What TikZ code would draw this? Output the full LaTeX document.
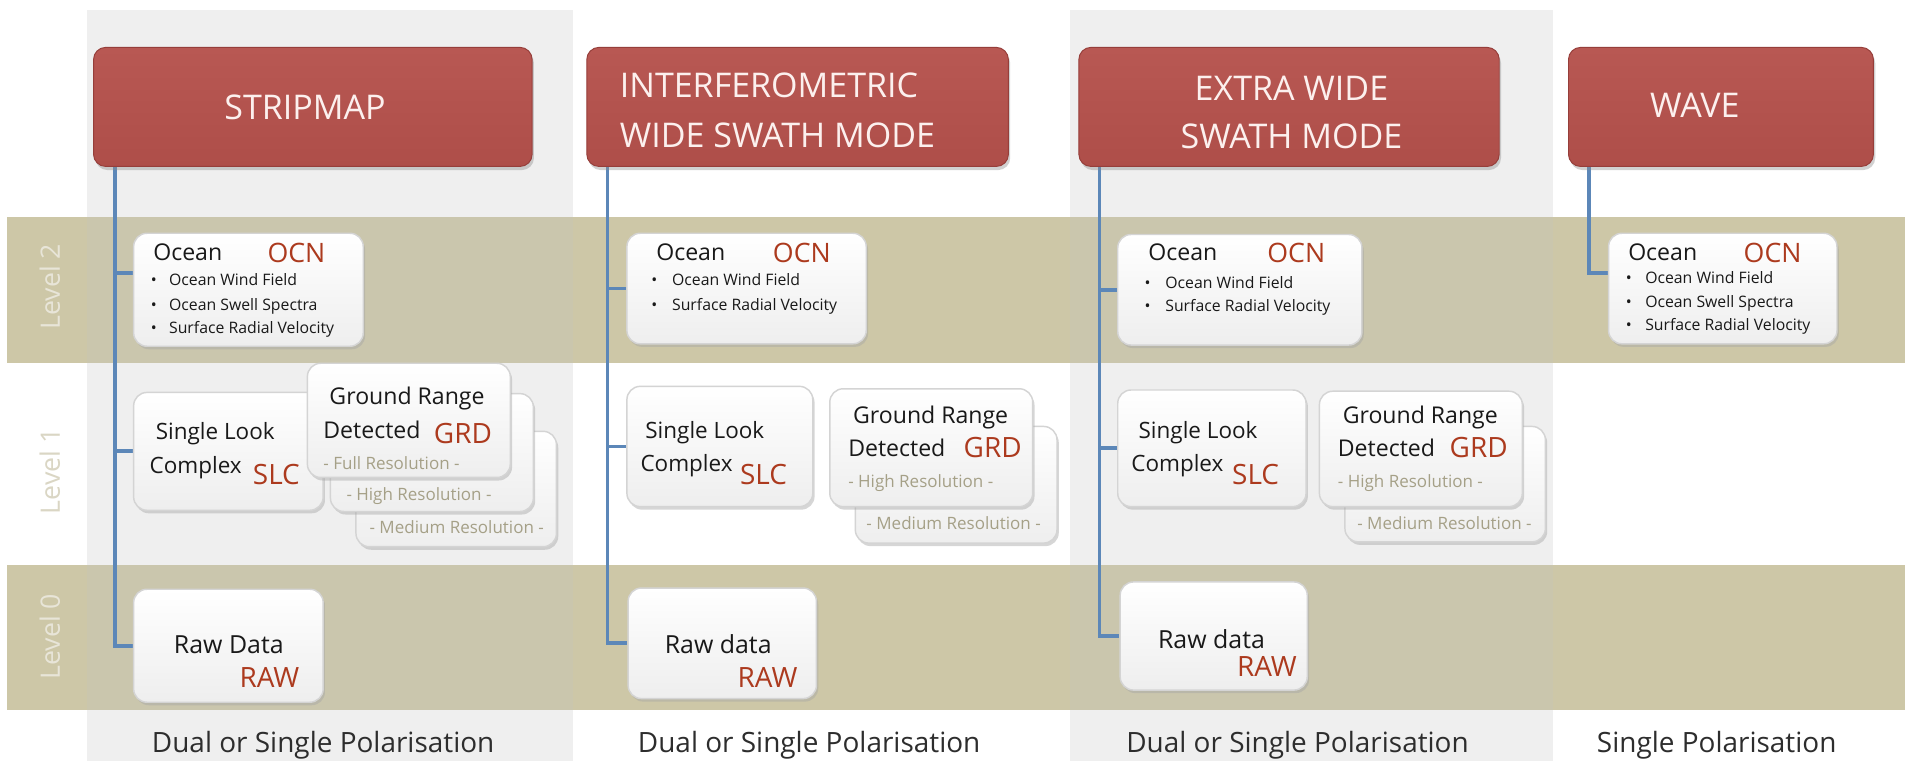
\documentclass[tikz,border=0pt]{standalone}
\usepackage{fontspec}
\setmainfont{Open Sans}
\usetikzlibrary{shadows}
\definecolor{tanband}{RGB}{205,199,167}
\definecolor{tanbandgrey}{RGB}{202,198,173}
\definecolor{colgrey}{RGB}{239,239,239}
\definecolor{hdrred}{RGB}{174,78,73}
\definecolor{hdrtop}{RGB}{184,88,83}
\definecolor{hdrdark}{RGB}{150,62,58}
\definecolor{hdrtext}{RGB}{252,240,238}
\definecolor{codered}{RGB}{172,58,30}
\definecolor{lineblue}{RGB}{92,135,184}
\definecolor{resgrey}{RGB}{165,160,135}
\definecolor{boxline}{RGB}{212,212,212}
\definecolor{boxbot}{RGB}{238,238,238}
\definecolor{txtdark}{RGB}{25,25,25}
\definecolor{bottxt}{RGB}{45,45,45}
\definecolor{lvlonband}{RGB}{232,229,216}
\definecolor{lvlonwhite}{RGB}{218,214,196}
\newcommand{\fsz}[1]{\fontsize{#1}{#1}\selectfont}
\pgfdeclarelayer{back}
\pgfdeclarelayer{mid}
\pgfsetlayers{back,mid,main}
\begin{document}
\begin{tikzpicture}[x=1pt,y=-1pt,
  wbox/.style={draw=boxline, line width=1.2pt, rounded corners=11pt, top color=white, bottom color=boxbot,
    drop shadow={shadow xshift=1.5pt, shadow yshift=-2.5pt, fill=black!35, opacity=0.45}, inner sep=0},
  hdr/.style={draw=hdrdark, line width=0.8pt, rounded corners=10pt, top color=hdrtop, bottom color=hdrred,
    drop shadow={shadow xshift=1.5pt, shadow yshift=-3pt, fill=black!45, opacity=0.4}, inner sep=0},
  conn/.style={draw=lineblue, line width=3.2pt},
  hdrtxt/.style={inner sep=0, text=hdrtext, font=\fsz{28}},
  tx/.style={inner sep=0, anchor=mid west, text=txtdark, yshift=-4pt},
  ocean/.style={tx, font=\fsz{19}},
  code/.style={inner sep=0, anchor=mid west, text=codered, font=\fsz{23}, yshift=-5pt},
  ocncode/.style={code, font=\fsz{22}},
  bul/.style={tx, font=\fsz{13}, yshift=1.5pt},
  big/.style={tx, font=\fsz{19}},
  rawtx/.style={tx, font=\fsz{20.5}},
  res/.style={inner sep=0, anchor=mid west, text=resgrey, font=\fsz{14}, yshift=-2.5pt},
  lvl/.style={inner sep=0, rotate=90, font=\fsz{22}},
  bottom/.style={inner sep=0, text=bottxt, font=\fsz{23}, yshift=-3pt}
]
\useasboundingbox (0,0) rectangle (1568,626);

% background, columns and level bands
\begin{pgfonlayer}{back}
\fill[white] (0,0) rectangle (1568,626);
\fill[colgrey] (72,8) rectangle (472,626);
\fill[colgrey] (881,8) rectangle (1278,626);
\fill[tanband] (6,178.5) rectangle (1568,299);
\fill[tanband] (6,465) rectangle (1568,584);
\fill[tanbandgrey] (72,178.5) rectangle (472,299);
\fill[tanbandgrey] (881,178.5) rectangle (1278,299);
\fill[tanbandgrey] (72,465) rectangle (472,584);
\fill[tanbandgrey] (881,465) rectangle (1278,584);
\end{pgfonlayer}

\node[lvl, text=lvlonband] (lv2) at (41,236) {Level 2};
\node[lvl, text=lvlonwhite] (lv1) at (41,388) {Level 1};
\node[lvl, text=lvlonband] (lv0) at (41,524) {Level 0};

% headers
\node[hdr, minimum width=361, minimum height=98] (hdr1) at (257.5,88) {};
\node[hdr, minimum width=347, minimum height=98] (hdr2) at (656.5,88) {};
\node[hdr, minimum width=346, minimum height=98] (hdr3) at (1061,88) {};
\node[hdr, minimum width=251, minimum height=98] (hdr4) at (1416.5,88) {};
\node[hdrtxt] (h1t) at (251,88) {STRIPMAP};
\node[hdrtxt, anchor=west, align=left, font=\fontsize{28}{41}\selectfont] (h2t) at (510,90.5) {INTERFEROMETRIC\\WIDE SWATH MODE};
\node[hdrtxt, align=center, font=\fontsize{28}{39}\selectfont] (h3t) at (1063,92.5) {EXTRA WIDE\\SWATH MODE};
\node[hdrtxt] (h4t) at (1395,87) {WAVE};

% ---------- column 1 : STRIPMAP ----------
\node[wbox, minimum width=189, minimum height=93] (ocn1) at (204.5,238.5) {};
\node[ocean] (ocn1a) at (126,208) {Ocean};
\node[ocncode] (ocn1b) at (220,208) {OCN};
\node[bul] (ocn1c) at (124,230) {\makebox[15pt][l]{\textbullet}Ocean Wind Field};
\node[bul] (ocn1d) at (124,250) {\makebox[15pt][l]{\textbullet}Ocean Swell Spectra};
\node[bul] (ocn1e) at (124,269) {\makebox[15pt][l]{\textbullet}Surface Radial Velocity};

\node[wbox, minimum width=156, minimum height=97] (slc1) at (188,371.5) {};
\node[big, font=\fsz{18.5}] (slc1a) at (128,355) {Single Look};
\node[big, font=\fsz{18.5}] (slc1b) at (123,383) {Complex};
\node[code] (slc1c) at (208,391) {SLC};

\node[wbox, minimum width=165, minimum height=95] (grd1c) at (375.5,402.5) {};
\node[wbox, minimum width=167, minimum height=97] (grd1b) at (355.5,372.5) {};
\node[wbox, minimum width=167, minimum height=94] (grd1a) at (336.5,346) {};
\node[big] (grd1t1) at (271,326) {Ground Range};
\node[big] (grd1t2) at (266,354) {Detected};
\node[code] (grd1t3) at (357,357) {GRD};
\node[res] (grd1t4) at (266,381) {- Full Resolution -};
\node[res] (grd1t5) at (285,407) {- High Resolution -};
\node[res] (grd1t6) at (304,434) {- Medium Resolution -};

\node[wbox, minimum width=156, minimum height=93] (raw1) at (188,531.5) {};
\node[rawtx] (raw1a) at (143,531) {Raw Data};
\node[code] (raw1b) at (197,558) {RAW};

\node[bottom] (pol1) at (266,610) {Dual or Single Polarisation};

% ---------- column 2 : IW ----------
\node[wbox, minimum width=197, minimum height=91] (ocn2) at (614.5,237.5) {};
\node[ocean] (ocn2a) at (540,208) {Ocean};
\node[ocncode] (ocn2b) at (636,208) {OCN};
\node[bul] (ocn2c) at (536,230) {\makebox[17pt][l]{\textbullet}Ocean Wind Field};
\node[bul] (ocn2d) at (536,250) {\makebox[17pt][l]{\textbullet}Surface Radial Velocity};

\node[wbox, minimum width=153, minimum height=99] (slc2) at (592.5,367.5) {};
\node[big, font=\fsz{18.5}] (slc2a) at (531,354) {Single Look};
\node[big, font=\fsz{18.5}] (slc2b) at (527,381) {Complex};
\node[code] (slc2c) at (609,391) {SLC};

\node[wbox, minimum width=166, minimum height=96] (grd2b) at (787,399) {};
\node[wbox, minimum width=167, minimum height=97] (grd2a) at (766.5,368.5) {};
\node[big] (grd2t1) at (702,342) {Ground Range};
\node[big] (grd2t2) at (698,369) {Detected};
\node[code] (grd2t3) at (793,369) {GRD};
\node[res] (grd2t4) at (698,396) {- High Resolution -};
\node[res] (grd2t5) at (713,431) {- Medium Resolution -};

\node[wbox, minimum width=155, minimum height=91] (raw2) at (594.5,529.5) {};
\node[rawtx] (raw2a) at (547,531) {Raw data};
\node[code] (raw2b) at (607,558) {RAW};

\node[bottom] (pol2) at (666,610) {Dual or Single Polarisation};

% ---------- column 3 : EW ----------
\node[wbox, minimum width=201, minimum height=91] (ocn3) at (1020.5,238.5) {};
\node[ocean] (ocn3a) at (945,208) {Ocean};
\node[ocncode] (ocn3b) at (1043,208) {OCN};
\node[bul] (ocn3c) at (942,232) {\makebox[17pt][l]{\textbullet}Ocean Wind Field};
\node[bul] (ocn3d) at (942,251) {\makebox[17pt][l]{\textbullet}Surface Radial Velocity};

\node[wbox, minimum width=155, minimum height=96] (slc3) at (997.5,369) {};
\node[big, font=\fsz{18.5}] (slc3a) at (937,354) {Single Look};
\node[big, font=\fsz{18.5}] (slc3b) at (931,381) {Complex};
\node[code] (slc3c) at (1014,391) {SLC};

\node[wbox, minimum width=165, minimum height=95] (grd3b) at (1189.5,398.5) {};
\node[wbox, minimum width=167, minimum height=95] (grd3a) at (1169.5,369.5) {};
\node[big] (grd3t1) at (1105,342) {Ground Range};
\node[big] (grd3t2) at (1101,369) {Detected};
\node[code] (grd3t3) at (1193,369) {GRD};
\node[res] (grd3t4) at (1101,396) {- High Resolution -};
\node[res] (grd3t5) at (1117,431) {- Medium Resolution -};

\node[wbox, minimum width=154, minimum height=89] (raw3) at (999,523.5) {};
\node[rawtx] (raw3a) at (953,527) {Raw data};
\node[code] (raw3b) at (1018,549) {RAW};

\node[bottom] (pol3) at (1068,610) {Dual or Single Polarisation};

% ---------- column 4 : WAVE ----------
\node[wbox, minimum width=188, minimum height=91] (ocn4) at (1418,237.5) {};
\node[ocean] (ocn4a) at (1340,208) {Ocean};
\node[ocncode] (ocn4b) at (1435,208) {OCN};
\node[bul] (ocn4c) at (1338,228) {\makebox[16pt][l]{\textbullet}Ocean Wind Field};
\node[bul] (ocn4d) at (1338,248) {\makebox[16pt][l]{\textbullet}Ocean Swell Spectra};
\node[bul] (ocn4e) at (1338,267) {\makebox[16pt][l]{\textbullet}Surface Radial Velocity};

\node[bottom] (pol4) at (1413,610) {Single Polarisation};

% ---------- connectors ----------
\coordinate (top1) at (94.5,137);
\coordinate (top2) at (500,137);
\coordinate (top3) at (905,137);
\coordinate (top4) at (1308,137);
\coordinate (ocn1in) at ([yshift=13.5pt]ocn1.west);
\coordinate (ocn4in) at ([yshift=12.5pt]ocn4.west);
\begin{pgfonlayer}{mid}
\draw[conn] (top1) |- (raw1.west);
\draw[conn] (top1 |- slc1.west) -- (slc1.west);
\draw[conn] (top1 |- ocn1in) -- (ocn1in);
\draw[conn] (top2) |- (raw2.west);
\draw[conn] (top2 |- slc2.west) -- (slc2.west);
\draw[conn] (top2 |- ocn2.west) -- (ocn2.west);
\draw[conn] (top3) |- (raw3.west);
\draw[conn] (top3 |- slc3.west) -- (slc3.west);
\draw[conn] (top3 |- ocn3.west) -- (ocn3.west);
\draw[conn] (top4) |- (ocn4in);
\end{pgfonlayer}
\end{tikzpicture}
\end{document}
